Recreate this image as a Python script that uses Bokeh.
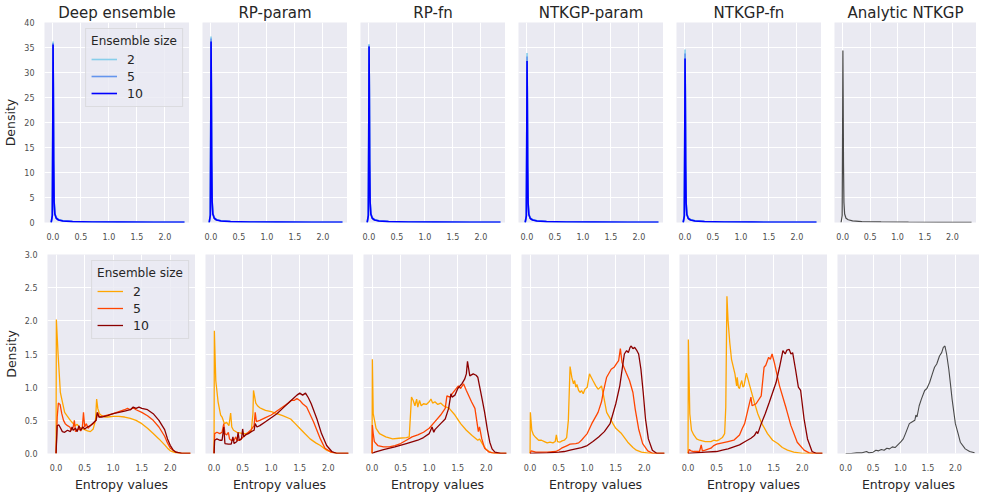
from bokeh.plotting import figure
from bokeh.layouts import column, row
from bokeh.models import FixedTicker, NumeralTickFormatter
from bokeh.embed import file_html
from bokeh.resources import INLINE

# ---------------- data ----------------
TITLES = ["Deep ensemble", "RP-param", "RP-fn", "NTKGP-param", "NTKGP-fn", "Analytic NTKGP"]
SIZES = ["2", "5", "10"]
TOP_COLORS = ["#87CEEB", "#6495ED", "#0000FF"]
BOTTOM_COLORS = ["#FFA500", "#FF4500", "#8B0000"]
ANALYTIC_COLOR = "#4a4a4a"
X_TICKS = [0.0, 0.5, 1.0, 1.5, 2.0]
TOP_Y_TICKS = [0, 5, 10, 15, 20, 25, 30, 35, 40]
BOTTOM_Y_TICKS = [0.0, 0.5, 1.0, 1.5, 2.0, 2.5, 3.0]

# top row: density of entropy (in-distribution), shared x grid
TOP_X = [-0.03, -0.01, -0.003, 0.003, 0.008, 0.014, 0.022, 0.035, 0.06, 0.1, 0.18, 0.35, 0.7, 1.2, 1.8, 2.35]
de_top_2 = [0, 1.5, 18.0, 36.2, 27.0, 12.5, 4.3, 1.8, 0.9, 0.6, 0.35, 0.2, 0.12, 0.08, 0.05, 0.02]
de_top_5 = [0, 1.5, 17.8, 35.9, 26.8, 12.4, 4.2, 1.7, 0.9, 0.55, 0.33, 0.19, 0.11, 0.07, 0.04, 0.02]
de_top_10 = [0, 1.4, 17.6, 35.6, 26.5, 12.3, 4.1, 1.7, 0.85, 0.5, 0.3, 0.18, 0.1, 0.07, 0.04, 0.02]
rpp_top_2 = [0, 1.6, 18.5, 37.2, 27.8, 12.9, 4.4, 1.8, 0.9, 0.6, 0.35, 0.2, 0.12, 0.08, 0.05, 0.02]
rpp_top_5 = [0, 1.5, 18.3, 36.8, 27.5, 12.7, 4.3, 1.8, 0.9, 0.55, 0.34, 0.19, 0.11, 0.07, 0.04, 0.02]
rpp_top_10 = [0, 1.5, 18.0, 36.2, 27.0, 12.5, 4.2, 1.7, 0.85, 0.5, 0.3, 0.18, 0.1, 0.07, 0.04, 0.02]
rpf_top_2 = [0, 1.5, 17.8, 35.7, 26.7, 12.3, 4.2, 1.8, 0.9, 0.6, 0.35, 0.2, 0.12, 0.08, 0.05, 0.02]
rpf_top_5 = [0, 1.5, 17.6, 35.4, 26.5, 12.2, 4.1, 1.7, 0.9, 0.55, 0.33, 0.19, 0.11, 0.07, 0.04, 0.02]
rpf_top_10 = [0, 1.4, 17.5, 35.2, 26.3, 12.1, 4.1, 1.7, 0.85, 0.5, 0.3, 0.18, 0.1, 0.07, 0.04, 0.02]
ntp_top_2 = [0, 1.4, 16.9, 33.9, 25.3, 11.7, 4.0, 1.7, 0.9, 0.6, 0.35, 0.2, 0.12, 0.08, 0.05, 0.02]
ntp_top_5 = [0, 1.4, 16.5, 33.2, 24.8, 11.5, 3.9, 1.6, 0.85, 0.55, 0.33, 0.19, 0.11, 0.07, 0.04, 0.02]
ntp_top_10 = [0, 1.3, 16.1, 32.3, 24.1, 11.2, 3.8, 1.6, 0.8, 0.5, 0.3, 0.18, 0.1, 0.07, 0.04, 0.02]
ntf_top_2 = [0, 1.4, 17.3, 34.6, 25.9, 12.0, 4.1, 1.7, 0.9, 0.6, 0.35, 0.2, 0.12, 0.08, 0.05, 0.02]
ntf_top_5 = [0, 1.4, 16.9, 33.8, 25.3, 11.7, 4.0, 1.7, 0.85, 0.55, 0.33, 0.19, 0.11, 0.07, 0.04, 0.02]
ntf_top_10 = [0, 1.3, 16.4, 32.8, 24.5, 11.4, 3.9, 1.6, 0.8, 0.5, 0.3, 0.18, 0.1, 0.07, 0.04, 0.02]
an_top = [0, 1.4, 17.2, 34.4, 25.7, 11.9, 4.0, 1.7, 0.85, 0.55, 0.33, 0.19, 0.11, 0.07, 0.04, 0.02]

# bottom row: (entropy, density) pairs
de_bot_2 = [(0, 0), (0.005, 2.02), (0.035, 1.5), (0.075, 0.92), (0.1, 0.82), (0.15, 0.62), (0.19, 0.57),
            (0.25, 0.5), (0.3, 0.45), (0.33, 0.42), (0.37, 0.44), (0.4, 0.4), (0.45, 0.38), (0.5, 0.36),
            (0.55, 0.34), (0.6, 0.33), (0.65, 0.37), (0.69, 0.5), (0.71, 0.82), (0.73, 0.68), (0.76, 0.6),
            (0.8, 0.57), (0.85, 0.55), (0.9, 0.55), (1.0, 0.56), (1.1, 0.56), (1.2, 0.55), (1.3, 0.53),
            (1.4, 0.5), (1.5, 0.45), (1.6, 0.38), (1.7, 0.3), (1.8, 0.22), (1.9, 0.13), (1.95, 0.08),
            (2.0, 0.04), (2.1, 0.01), (2.2, 0), (2.35, 0)]
de_bot_5 = [(0, 0), (0.02, 0.55), (0.04, 0.76), (0.07, 0.74), (0.1, 0.6), (0.13, 0.5), (0.16, 0.45),
            (0.2, 0.42), (0.24, 0.4), (0.27, 0.35), (0.3, 0.4), (0.32, 0.5), (0.34, 0.33), (0.37, 0.35),
            (0.4, 0.38), (0.43, 0.34), (0.46, 0.4), (0.48, 0.62), (0.5, 0.4), (0.53, 0.45), (0.56, 0.38),
            (0.6, 0.42), (0.65, 0.45), (0.7, 0.5), (0.73, 0.62), (0.76, 0.55), (0.8, 0.56), (0.9, 0.58),
            (1.0, 0.6), (1.1, 0.63), (1.2, 0.66), (1.25, 0.68), (1.3, 0.66), (1.35, 0.69), (1.4, 0.66),
            (1.5, 0.62), (1.6, 0.57), (1.7, 0.5), (1.8, 0.4), (1.9, 0.26), (1.95, 0.16), (2.0, 0.08),
            (2.1, 0.02), (2.2, 0), (2.35, 0)]
de_bot_10 = [(0, 0), (0.02, 0.42), (0.05, 0.43), (0.08, 0.38), (0.11, 0.33), (0.15, 0.32), (0.2, 0.35),
             (0.25, 0.33), (0.28, 0.4), (0.3, 0.35), (0.34, 0.38), (0.37, 0.33), (0.4, 0.42), (0.43, 0.35),
             (0.47, 0.4), (0.5, 0.37), (0.55, 0.4), (0.6, 0.42), (0.65, 0.46), (0.7, 0.5), (0.72, 0.62),
             (0.75, 0.55), (0.8, 0.55), (0.9, 0.57), (1.0, 0.6), (1.1, 0.62), (1.2, 0.64), (1.3, 0.66),
             (1.35, 0.7), (1.4, 0.68), (1.45, 0.7), (1.5, 0.68), (1.6, 0.66), (1.7, 0.6), (1.8, 0.5),
             (1.9, 0.36), (1.95, 0.22), (2.0, 0.12), (2.05, 0.05), (2.1, 0.02), (2.2, 0), (2.35, 0)]

rpp_bot_2 = [(0, 0), (0.005, 1.85), (0.03, 1.1), (0.07, 0.78), (0.115, 0.58), (0.14, 0.55), (0.18, 0.45),
             (0.22, 0.47), (0.26, 0.42), (0.29, 0.61), (0.31, 0.4), (0.34, 0.35), (0.4, 0.32), (0.45, 0.31),
             (0.5, 0.3), (0.55, 0.3), (0.6, 0.31), (0.65, 0.33), (0.68, 0.6), (0.69, 0.95), (0.73, 0.76),
             (0.76, 0.72), (0.8, 0.69), (0.85, 0.67), (0.9, 0.65), (1.0, 0.63), (1.1, 0.6), (1.2, 0.57),
             (1.34, 0.52), (1.42, 0.45), (1.51, 0.37), (1.6, 0.29), (1.68, 0.22), (1.78, 0.16), (1.86, 0.12),
             (1.97, 0.05), (2.05, 0.02), (2.15, 0), (2.35, 0)]
rpp_bot_5 = [(0, 0), (0.01, 0.3), (0.05, 0.32), (0.1, 0.3), (0.14, 0.32), (0.17, 0.45), (0.19, 0.3),
             (0.22, 0.28), (0.25, 0.32), (0.27, 0.22), (0.3, 0.2), (0.35, 0.2), (0.38, 0.25), (0.4, 0.2),
             (0.45, 0.2), (0.5, 0.24), (0.55, 0.28), (0.6, 0.32), (0.65, 0.36), (0.7, 0.42), (0.72, 0.62),
             (0.74, 0.48), (0.8, 0.5), (0.9, 0.54), (1.0, 0.58), (1.1, 0.64), (1.2, 0.7), (1.3, 0.76),
             (1.35, 0.8), (1.4, 0.8), (1.45, 0.83), (1.5, 0.8), (1.55, 0.75), (1.62, 0.7), (1.74, 0.48),
             (1.86, 0.22), (1.94, 0.08), (2.05, 0.02), (2.15, 0), (2.35, 0)]
rpp_bot_10 = [(0, 0), (0.01, 0.2), (0.05, 0.22), (0.1, 0.2), (0.14, 0.2), (0.17, 0.4), (0.19, 0.15),
              (0.25, 0.14), (0.3, 0.14), (0.33, 0.25), (0.35, 0.15), (0.4, 0.18), (0.42, 0.32), (0.44, 0.2),
              (0.48, 0.22), (0.5, 0.37), (0.52, 0.25), (0.55, 0.28), (0.6, 0.3), (0.65, 0.33), (0.7, 0.35),
              (0.72, 0.45), (0.75, 0.4), (0.8, 0.42), (0.9, 0.48), (1.0, 0.54), (1.1, 0.6), (1.2, 0.68),
              (1.3, 0.76), (1.4, 0.84), (1.45, 0.88), (1.5, 0.91), (1.55, 0.88), (1.6, 0.91), (1.65, 0.84),
              (1.7, 0.75), (1.8, 0.52), (1.88, 0.3), (1.97, 0.12), (2.06, 0.03), (2.15, 0), (2.35, 0)]

rpf_bot_2 = [(0, 0), (0.005, 1.42), (0.02, 0.6), (0.07, 0.38), (0.13, 0.3), (0.24, 0.25), (0.36, 0.22),
             (0.47, 0.23), (0.6, 0.24), (0.65, 0.25), (0.69, 0.85), (0.72, 0.8), (0.75, 0.72), (0.78, 0.82),
             (0.8, 0.7), (0.83, 0.8), (0.86, 0.72), (0.9, 0.75), (0.95, 0.74), (1.0, 0.78), (1.03, 0.82),
             (1.06, 0.76), (1.1, 0.78), (1.15, 0.74), (1.2, 0.76), (1.25, 0.72), (1.3, 0.7), (1.35, 0.68),
             (1.45, 0.58), (1.55, 0.45), (1.65, 0.35), (1.75, 0.27), (1.85, 0.2), (1.88, 0.22), (1.95, 0.12),
             (2.0, 0.06), (2.05, 0.03), (2.1, 0.01), (2.2, 0), (2.35, 0)]
rpf_bot_5 = [(0, 0), (0.005, 0.43), (0.02, 0.3), (0.04, 0.18), (0.1, 0.12), (0.2, 0.1), (0.3, 0.1),
             (0.4, 0.12), (0.5, 0.15), (0.6, 0.2), (0.7, 0.25), (0.8, 0.28), (0.9, 0.32), (1.0, 0.38),
             (1.1, 0.48), (1.2, 0.58), (1.28, 0.68), (1.31, 0.87), (1.36, 0.85), (1.42, 0.92), (1.51, 1.02),
             (1.55, 0.98), (1.6, 1.05), (1.65, 0.95), (1.74, 0.78), (1.8, 0.68), (1.86, 0.33), (1.88, 0.4),
             (1.92, 0.22), (1.97, 0.08), (2.05, 0.02), (2.15, 0), (2.35, 0)]
rpf_bot_10 = [(0, 0), (0.05, 0.02), (0.2, 0.06), (0.4, 0.1), (0.6, 0.15), (0.8, 0.2), (0.9, 0.24),
              (1.0, 0.3), (1.05, 0.4), (1.08, 0.32), (1.1, 0.36), (1.2, 0.45), (1.28, 0.52), (1.34, 0.68),
              (1.38, 0.9), (1.4, 0.85), (1.45, 0.88), (1.5, 0.98), (1.57, 1.05), (1.62, 1.12), (1.65, 1.2),
              (1.67, 1.39), (1.71, 1.17), (1.77, 1.2), (1.82, 1.18), (1.85, 1.15), (1.88, 1.02), (1.93, 0.8),
              (1.97, 0.62), (2.02, 0.35), (2.06, 0.17), (2.1, 0.07), (2.15, 0.02), (2.25, 0), (2.35, 0)]

ntp_bot_2 = [(0, 0), (0.005, 0.62), (0.03, 0.35), (0.06, 0.28), (0.1, 0.24), (0.15, 0.2), (0.2, 0.2),
             (0.25, 0.18), (0.3, 0.16), (0.35, 0.17), (0.4, 0.16), (0.44, 0.18), (0.46, 0.28), (0.48, 0.18),
             (0.52, 0.17), (0.56, 0.19), (0.6, 0.2), (0.64, 0.24), (0.67, 0.5), (0.7, 1.31), (0.73, 1.15),
             (0.76, 1.05), (0.78, 1.1), (0.8, 1.0), (0.82, 1.04), (0.85, 0.95), (0.88, 0.92), (0.9, 0.95),
             (0.93, 0.9), (0.96, 0.97), (1.0, 1.0), (1.04, 1.2), (1.07, 1.15), (1.1, 1.1), (1.15, 1.02),
             (1.19, 0.97), (1.22, 0.99), (1.25, 1.02), (1.28, 0.9), (1.34, 0.62), (1.4, 0.53), (1.45, 0.45),
             (1.5, 0.38), (1.6, 0.3), (1.71, 0.17), (1.8, 0.09), (1.86, 0.05), (1.95, 0.02), (2.1, 0), (2.35, 0)]
ntp_bot_5 = [(0, 0), (0.02, 0.04), (0.1, 0.02), (0.3, 0.02), (0.45, 0.03), (0.5, 0.05), (0.55, 0.08),
             (0.6, 0.1), (0.65, 0.12), (0.7, 0.14), (0.8, 0.15), (0.85, 0.16), (0.9, 0.2), (0.95, 0.25),
             (1.0, 0.3), (1.08, 0.45), (1.19, 0.62), (1.25, 0.78), (1.28, 0.92), (1.34, 1.15), (1.42, 1.27),
             (1.47, 1.3), (1.51, 1.35), (1.55, 1.4), (1.58, 1.58), (1.61, 1.37), (1.68, 1.22), (1.74, 1.1),
             (1.8, 0.92), (1.84, 0.67), (1.9, 0.37), (1.97, 0.15), (2.06, 0.04), (2.15, 0), (2.35, 0)]
ntp_bot_10 = [(0, 0), (0.3, 0.01), (0.5, 0.02), (0.6, 0.03), (0.7, 0.05), (0.8, 0.07), (0.9, 0.09),
              (1.0, 0.12), (1.1, 0.18), (1.2, 0.25), (1.3, 0.33), (1.4, 0.45), (1.45, 0.6), (1.5, 0.75),
              (1.57, 1.02), (1.6, 1.2), (1.63, 1.38), (1.65, 1.5), (1.69, 1.55), (1.72, 1.52), (1.75, 1.6),
              (1.77, 1.62), (1.8, 1.58), (1.83, 1.6), (1.87, 1.55), (1.9, 1.5), (1.94, 1.27), (1.98, 0.92),
              (2.02, 0.52), (2.07, 0.22), (2.14, 0.05), (2.22, 0), (2.35, 0)]

ntf_bot_2 = [(0, 0), (0.005, 1.72), (0.03, 0.6), (0.06, 0.35), (0.1, 0.28), (0.15, 0.22), (0.2, 0.2),
             (0.3, 0.18), (0.4, 0.18), (0.45, 0.2), (0.5, 0.19), (0.55, 0.21), (0.6, 0.24), (0.64, 0.3),
             (0.66, 0.7), (0.68, 2.37), (0.7, 2.0), (0.73, 1.67), (0.76, 1.42), (0.82, 1.2), (0.85, 1.02),
             (0.86, 1.15), (0.88, 1.0), (0.9, 0.98), (0.92, 1.05), (0.94, 1.1), (0.96, 1.0), (0.98, 1.02),
             (1.02, 1.21), (1.05, 1.12), (1.08, 1.02), (1.16, 0.77), (1.22, 0.6), (1.28, 0.47), (1.39, 0.3),
             (1.48, 0.2), (1.57, 0.15), (1.65, 0.09), (1.74, 0.05), (1.85, 0.02), (2.0, 0), (2.35, 0)]
ntf_bot_5 = [(0, 0), (0.02, 0.06), (0.05, 0.04), (0.1, 0.03), (0.2, 0.03), (0.23, 0.13), (0.25, 0.04),
             (0.3, 0.05), (0.4, 0.08), (0.45, 0.12), (0.5, 0.14), (0.6, 0.16), (0.7, 0.18), (0.8, 0.2),
             (0.9, 0.28), (0.95, 0.38), (0.99, 0.45), (1.05, 0.67), (1.1, 0.85), (1.12, 0.72), (1.19, 0.75),
             (1.28, 0.87), (1.33, 1.3), (1.36, 1.33), (1.41, 1.45), (1.44, 1.42), (1.47, 1.5), (1.51, 1.37),
             (1.6, 1.02), (1.72, 0.67), (1.8, 0.42), (1.91, 0.17), (2.03, 0.05), (2.12, 0.01), (2.2, 0), (2.35, 0)]
ntf_bot_10 = [(0, 0), (0.3, 0.02), (0.5, 0.03), (0.6, 0.05), (0.7, 0.07), (0.8, 0.1), (0.9, 0.13),
              (1.0, 0.18), (1.1, 0.23), (1.16, 0.27), (1.2, 0.33), (1.22, 0.3), (1.28, 0.45), (1.35, 0.6),
              (1.42, 0.77), (1.48, 0.92), (1.54, 1.07), (1.6, 1.3), (1.66, 1.55), (1.7, 1.5), (1.73, 1.56),
              (1.77, 1.57), (1.8, 1.5), (1.83, 1.52), (1.88, 1.27), (1.93, 1.0), (1.97, 0.95), (2.03, 0.52),
              (2.09, 0.22), (2.17, 0.03), (2.25, 0), (2.35, 0)]

an_bot = [(0, 0), (0.1, 0.0), (0.2, 0.01), (0.3, 0.01), (0.38, 0.03), (0.42, 0.01), (0.5, 0.02),
          (0.55, 0.05), (0.6, 0.04), (0.65, 0.06), (0.7, 0.05), (0.75, 0.08), (0.8, 0.07), (0.85, 0.1),
          (0.9, 0.09), (0.95, 0.13), (1.0, 0.17), (1.05, 0.22), (1.09, 0.3), (1.16, 0.45), (1.2, 0.47),
          (1.26, 0.5), (1.28, 0.58), (1.3, 0.55), (1.34, 0.72), (1.38, 0.82), (1.44, 0.95), (1.48, 0.98),
          (1.53, 1.07), (1.58, 1.2), (1.62, 1.3), (1.66, 1.35), (1.71, 1.47), (1.75, 1.52), (1.78, 1.6),
          (1.81, 1.62), (1.84, 1.5), (1.88, 1.27), (1.91, 1.05), (1.94, 0.82), (2.0, 0.45), (2.05, 0.3),
          (2.09, 0.17), (2.18, 0.07), (2.26, 0.03), (2.35, 0.01)]

TOP_SERIES = [[de_top_2, de_top_5, de_top_10], [rpp_top_2, rpp_top_5, rpp_top_10],
              [rpf_top_2, rpf_top_5, rpf_top_10], [ntp_top_2, ntp_top_5, ntp_top_10],
              [ntf_top_2, ntf_top_5, ntf_top_10], [an_top]]
BOTTOM_SERIES = [[de_bot_2, de_bot_5, de_bot_10], [rpp_bot_2, rpp_bot_5, rpp_bot_10],
                 [rpf_bot_2, rpf_bot_5, rpf_bot_10], [ntp_bot_2, ntp_bot_5, ntp_bot_10],
                 [ntf_bot_2, ntf_bot_5, ntf_bot_10], [an_bot]]

# ---------------- styling / layout ----------------
FONT = "DejaVu Sans"
TEXT = "#262626"
BG = "#eaeaf2"
LEFT0 = 36
PITCH = 158
TOTAL_W = 968
X_RANGE = (-0.15, 2.44)


def style(p, col, y_ticks, y_fmt, show_xlabel):
    p.background_fill_color = BG
    p.border_fill_color = "white"
    p.outline_line_color = None
    for ax in p.axis:
        ax.axis_line_color = None
        ax.major_tick_line_color = None
        ax.minor_tick_line_color = None
        ax.major_label_text_font = FONT
        ax.major_label_text_font_size = "8px"
        ax.major_label_text_color = "#4d4d4d"
        ax.major_label_standoff = 4
        ax.axis_label_text_font = FONT
        ax.axis_label_text_font_size = "12.5px"
        ax.axis_label_text_font_style = "normal"
        ax.axis_label_text_color = TEXT
        ax.axis_label_standoff = 3
    p.xaxis.ticker = FixedTicker(ticks=X_TICKS)
    p.xaxis.formatter = NumeralTickFormatter(format="0.0")
    p.yaxis.ticker = FixedTicker(ticks=y_ticks)
    p.yaxis.formatter = NumeralTickFormatter(format=y_fmt)
    p.xgrid.ticker = FixedTicker(ticks=X_TICKS)
    p.ygrid.ticker = FixedTicker(ticks=y_ticks)
    for g in (p.xgrid, p.ygrid):
        g.grid_line_color = "white"
        g.grid_line_width = 1
    if col == 0:
        p.yaxis.axis_label = "Density"
    else:
        p.yaxis.visible = False
    if show_xlabel:
        p.xaxis.axis_label = "Entropy values"


def style_legend(p):
    lg = p.legend[0]
    lg.title = "Ensemble size"
    lg.location = "top_right"
    lg.margin = 6
    lg.padding = 5
    lg.spacing = 1
    lg.label_height = 16
    lg.glyph_height = 16
    lg.glyph_width = 26
    lg.label_standoff = 10
    lg.title_standoff = 3
    lg.title_text_font = FONT
    lg.title_text_font_size = "12px"
    lg.title_text_font_style = "normal"
    lg.title_text_color = TEXT
    lg.label_text_font = FONT
    lg.label_text_font_size = "12.5px"
    lg.label_text_color = TEXT
    lg.background_fill_color = BG
    lg.background_fill_alpha = 0.8
    lg.border_line_color = "#cccccc"
    lg.border_line_width = 1


def frame_geom(col, top):
    fw = 145 if top else 148
    left = LEFT0 + col * PITCH
    if col == 5:
        fw = TOTAL_W - left
    if col == 0:
        border_left = LEFT0
    else:
        prev_fw = 145 if top else 148
        border_left = PITCH - prev_fw
    return fw, border_left


top_figs = []
for c in range(6):
    fw, bl = frame_geom(c, True)
    p = figure(title=TITLES[c], frame_width=fw, frame_height=200,
               min_border_left=bl, min_border_right=0, min_border_top=16, min_border_bottom=16,
               x_range=X_RANGE, y_range=(0, 40),
               output_backend="svg", toolbar_location=None, tools="")
    p.title.align = "center"
    p.title.text_font = FONT
    p.title.text_font_size = "15px"
    p.title.text_font_style = "normal"
    p.title.text_color = TEXT
    p.title.standoff = 2
    style(p, c, TOP_Y_TICKS, "0", False)
    series = TOP_SERIES[c]
    if len(series) == 1:
        p.line(TOP_X, series[0], line_color=ANALYTIC_COLOR, line_width=1.2)
    else:
        for k, ys in enumerate(series):
            if c == 0:
                p.line(TOP_X, ys, line_color=TOP_COLORS[k], line_width=1.6, legend_label=SIZES[k])
            else:
                p.line(TOP_X, ys, line_color=TOP_COLORS[k], line_width=1.6)
    if c == 0:
        style_legend(p)
    top_figs.append(p)

bottom_figs = []
for c in range(6):
    fw, bl = frame_geom(c, False)
    p = figure(frame_width=fw, frame_height=199,
               min_border_left=bl, min_border_right=0, min_border_top=12, min_border_bottom=31,
               x_range=X_RANGE, y_range=(0, 3.0),
               output_backend="svg", toolbar_location=None, tools="")
    style(p, c, BOTTOM_Y_TICKS, "0.0", True)
    series = BOTTOM_SERIES[c]
    if len(series) == 1:
        xs = [pt[0] for pt in series[0]]
        ys = [pt[1] for pt in series[0]]
        p.line(xs, ys, line_color=ANALYTIC_COLOR, line_width=1.1)
    else:
        for k, pts in enumerate(series):
            xs = [pt[0] for pt in pts]
            ys = [pt[1] for pt in pts]
            if c == 0:
                p.line(xs, ys, line_color=BOTTOM_COLORS[k], line_width=1.3, legend_label=SIZES[k])
            else:
                p.line(xs, ys, line_color=BOTTOM_COLORS[k], line_width=1.3)
    if c == 0:
        style_legend(p)
    bottom_figs.append(p)

layout = column(row(*top_figs), row(*bottom_figs))

open("out.html", "w").write(file_html(layout, INLINE))
